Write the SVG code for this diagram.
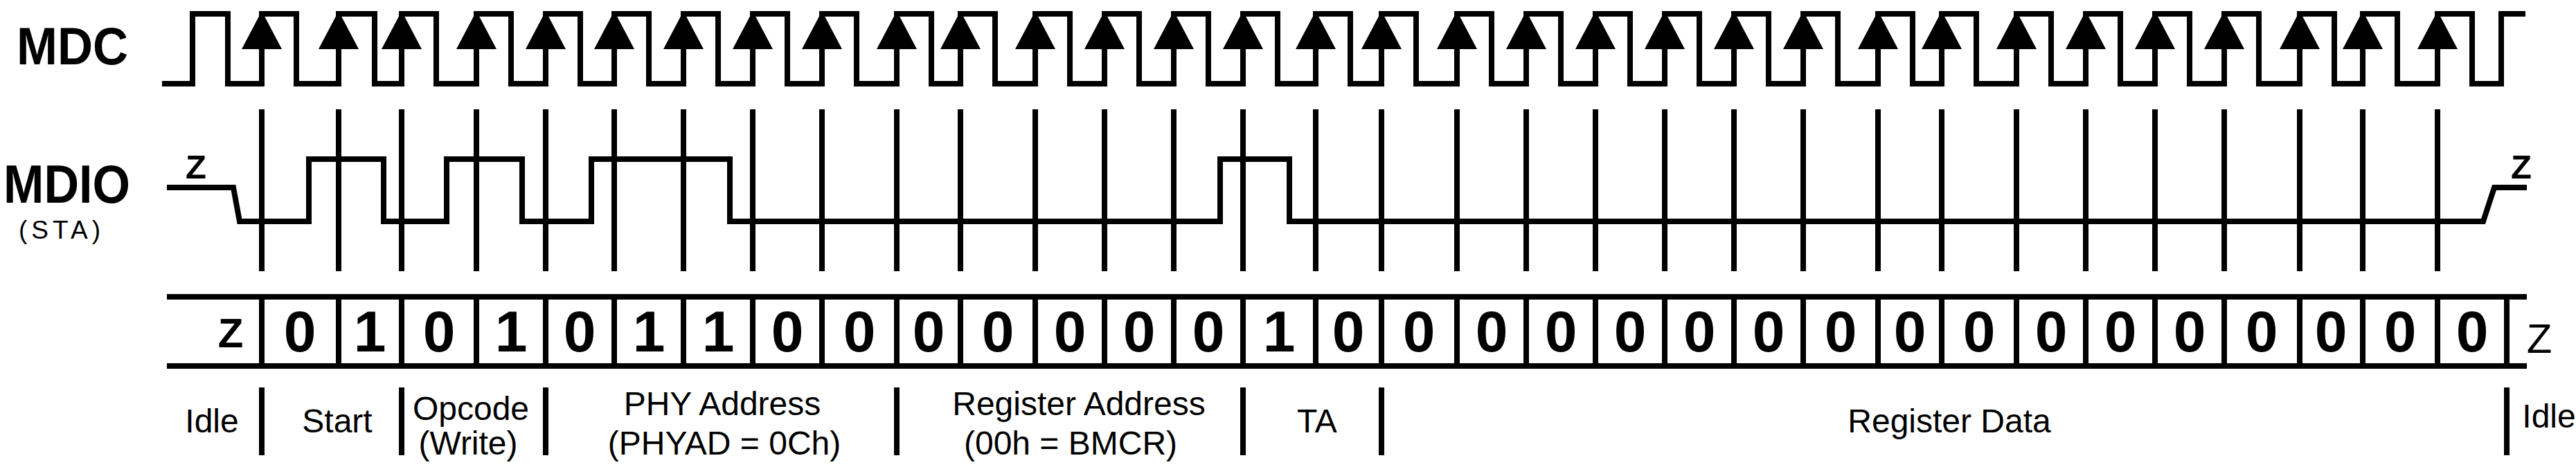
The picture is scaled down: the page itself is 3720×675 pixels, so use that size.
<svg xmlns="http://www.w3.org/2000/svg" xmlns:xlink="http://www.w3.org/1999/xlink" width="3720" height="675" viewBox="0 0 3720 675">
<style>
.w{fill:none;stroke:#000;stroke-width:8;stroke-linejoin:miter;stroke-linecap:butt}
.sig{font-family:"Liberation Sans",Arial,sans-serif;font-weight:bold;fill:#000}
.bit{font-family:"Liberation Sans",Arial,sans-serif;font-weight:bold;font-size:84px;fill:#000;text-anchor:middle}
.lbl{font-family:"Liberation Sans",Arial,sans-serif;font-size:48px;fill:#000;text-anchor:middle}
</style>
<defs>
<path id="arr" d="M0,16 L-29,71 L29,71 Z" fill="#000"/>
</defs>
<rect width="3720" height="675" fill="#fff"/>
<g id="signal-labels">
<text class="sig" x="24" y="93" font-size="76" textLength="161" lengthAdjust="spacingAndGlyphs">MDC</text>
<text class="sig" x="5" y="293" font-size="78" textLength="183" lengthAdjust="spacingAndGlyphs">MDIO</text>
<text x="27" y="345" font-family="Liberation Sans,Arial,sans-serif" font-size="37" textLength="118" lengthAdjust="spacing">(STA)</text>
</g>
<g id="mdc">
<path class="w" d="M234,121 H278 V20 H329 V121 H378 V20 H428 V121 H489 V20 H541 V121 H580 V20 H630 V121 H688 V20 H738 V121 H788 V20 H838 V121 H887 V20 H937 V121 H987 V20 H1037 V121 H1087 V20 H1137 V121 H1187 V20 H1237 V121 H1295 V20 H1345 V121 H1387 V20 H1437 V121 H1495 V20 H1545 V121 H1595 V20 H1645 V121 H1695 V20 H1745 V121 H1795 V20 H1845 V121 H1900 V20 H1950 V121 H1995 V20 H2045 V121 H2104 V20 H2154 V121 H2204 V20 H2254 V121 H2304 V20 H2354 V121 H2404 V20 H2454 V121 H2504 V20 H2554 V121 H2604 V20 H2654 V121 H2712 V20 H2762 V121 H2804 V20 H2854 V121 H2912 V20 H2962 V121 H3012 V20 H3062 V121 H3112 V20 H3162 V121 H3212 V20 H3262 V121 H3321 V20 H3371 V121 H3412 V20 H3462 V121 H3520 V20 H3570 V121 H3612 V20 H3647"/>
<g id="mdc-arrows">
<use xlink:href="#arr" x="378"/><use xlink:href="#arr" x="489"/><use xlink:href="#arr" x="580"/><use xlink:href="#arr" x="688"/>
<use xlink:href="#arr" x="788"/><use xlink:href="#arr" x="887"/><use xlink:href="#arr" x="987"/><use xlink:href="#arr" x="1087"/>
<use xlink:href="#arr" x="1187"/><use xlink:href="#arr" x="1295"/><use xlink:href="#arr" x="1387"/><use xlink:href="#arr" x="1495"/>
<use xlink:href="#arr" x="1595"/><use xlink:href="#arr" x="1695"/><use xlink:href="#arr" x="1795"/><use xlink:href="#arr" x="1900"/>
<use xlink:href="#arr" x="1995"/><use xlink:href="#arr" x="2104"/><use xlink:href="#arr" x="2204"/><use xlink:href="#arr" x="2304"/>
<use xlink:href="#arr" x="2404"/><use xlink:href="#arr" x="2504"/><use xlink:href="#arr" x="2604"/><use xlink:href="#arr" x="2712"/>
<use xlink:href="#arr" x="2804"/><use xlink:href="#arr" x="2912"/><use xlink:href="#arr" x="3012"/><use xlink:href="#arr" x="3112"/>
<use xlink:href="#arr" x="3212"/><use xlink:href="#arr" x="3321"/><use xlink:href="#arr" x="3412"/><use xlink:href="#arr" x="3520"/>
</g>
</g>
<g id="mdio">
<path class="w" d="M241,271 H337 L346,320 H446 V230 H554 V320 H645 V230 H754 V320 H854 V230 H1054 V320 H1762 V230 H1862 V320 H3586 L3602,271 H3649"/>
<path class="w" d="M378,158 V392 M489,158 V392 M580,158 V392 M688,158 V392 M788,158 V392 M887,158 V392 M987,158 V392 M1087,158 V392 M1187,158 V392 M1295,158 V392 M1387,158 V392 M1495,158 V392 M1595,158 V392 M1695,158 V392 M1795,158 V392 M1900,158 V392 M1995,158 V392 M2104,158 V392 M2204,158 V392 M2304,158 V392 M2404,158 V392 M2504,158 V392 M2604,158 V392 M2712,158 V392 M2804,158 V392 M2912,158 V392 M3012,158 V392 M3112,158 V392 M3212,158 V392 M3321,158 V392 M3412,158 V392 M3520,158 V392"/>
<text class="sig" x="268" y="258" font-size="49">Z</text>
<text class="sig" x="3626" y="258" font-size="49">Z</text>
</g>
<g id="bits">
<path class="w" d="M241,429 H3649 M241,529 H3649"/>
<path class="w" d="M378,429 V529 M489,429 V529 M580,429 V529 M688,429 V529 M788,429 V529 M887,429 V529 M987,429 V529 M1087,429 V529 M1187,429 V529 M1295,429 V529 M1387,429 V529 M1495,429 V529 M1595,429 V529 M1695,429 V529 M1795,429 V529 M1900,429 V529 M1995,429 V529 M2104,429 V529 M2204,429 V529 M2304,429 V529 M2404,429 V529 M2504,429 V529 M2604,429 V529 M2712,429 V529 M2804,429 V529 M2912,429 V529 M3012,429 V529 M3112,429 V529 M3212,429 V529 M3321,429 V529 M3412,429 V529 M3520,429 V529 M3620,429 V529"/>
<text class="sig" x="333" y="502" font-size="60" text-anchor="middle">Z</text>
<text x="3667" y="510" font-family="Liberation Sans,Arial,sans-serif" font-size="60" text-anchor="middle">Z</text>
<text class="bit" x="433" y="508">0</text>
<text class="bit" x="534" y="508">1</text>
<text class="bit" x="634" y="508">0</text>
<text class="bit" x="738" y="508">1</text>
<text class="bit" x="837" y="508">0</text>
<text class="bit" x="937" y="508">1</text>
<text class="bit" x="1037" y="508">1</text>
<text class="bit" x="1137" y="508">0</text>
<text class="bit" x="1241" y="508">0</text>
<text class="bit" x="1341" y="508">0</text>
<text class="bit" x="1441" y="508">0</text>
<text class="bit" x="1545" y="508">0</text>
<text class="bit" x="1645" y="508">0</text>
<text class="bit" x="1745" y="508">0</text>
<text class="bit" x="1847" y="508">1</text>
<text class="bit" x="1947" y="508">0</text>
<text class="bit" x="2049" y="508">0</text>
<text class="bit" x="2154" y="508">0</text>
<text class="bit" x="2254" y="508">0</text>
<text class="bit" x="2354" y="508">0</text>
<text class="bit" x="2454" y="508">0</text>
<text class="bit" x="2554" y="508">0</text>
<text class="bit" x="2658" y="508">0</text>
<text class="bit" x="2758" y="508">0</text>
<text class="bit" x="2858" y="508">0</text>
<text class="bit" x="2962" y="508">0</text>
<text class="bit" x="3062" y="508">0</text>
<text class="bit" x="3162" y="508">0</text>
<text class="bit" x="3266" y="508">0</text>
<text class="bit" x="3366" y="508">0</text>
<text class="bit" x="3466" y="508">0</text>
<text class="bit" x="3570" y="508">0</text>
</g>
<g id="fields">
<path class="w" d="M378,560 V658 M580,560 V658 M788,560 V658 M1295,560 V658 M1795,560 V658 M1995,560 V658 M3620,560 V658"/>
<text class="lbl" x="306" y="625">Idle</text>
<text class="lbl" x="487" y="625">Start</text>
<text class="lbl" x="680" y="607">Opcode</text>
<text class="lbl" x="676" y="657">(Write)</text>
<text class="lbl" x="1043" y="600">PHY Address</text>
<text class="lbl" x="1046" y="657">(PHYAD = 0Ch)</text>
<text class="lbl" x="1558" y="600">Register Address</text>
<text class="lbl" x="1546" y="657">(00h = BMCR)</text>
<text class="lbl" x="1902" y="625">TA</text>
<text class="lbl" x="2815" y="625">Register Data</text>
<text class="lbl" x="3681" y="618">Idle</text>
</g>
</svg>
